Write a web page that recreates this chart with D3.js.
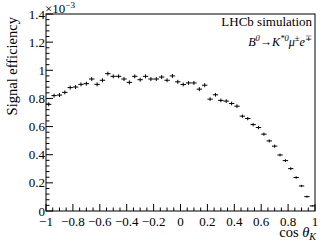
<!DOCTYPE html>
<html>
<head>
<meta charset="utf-8">
<script src="https://cdn.jsdelivr.net/npm/d3@7"></script>
<style>
body { margin: 0; background: #fff; }
</style>
</head>
<body>
<script>
var width = 332, height = 246;
var font = "'Liberation Serif', 'Times New Roman', Times, 'DejaVu Serif', serif";

// 50 bins in cos(theta_K), efficiency in units of 1e-3
var binEdges = [-1, 1];
var nBins = 50;
var eff = [0.758, 0.820, 0.824, 0.843, 0.877, 0.881, 0.900, 0.905, 0.938, 0.900,
           0.929, 0.976, 0.957, 0.957, 0.938, 0.914, 0.957, 0.933, 0.957, 0.938,
           0.938, 0.952, 0.929, 0.960, 0.918, 0.899, 0.910, 0.910, 0.866, 0.894,
           0.795, 0.826, 0.786, 0.781, 0.764, 0.745, 0.674, 0.657, 0.614, 0.593,
           0.546, 0.498, 0.461, 0.398, 0.358, 0.301, 0.238, 0.178, 0.102, 0.036];
var effErr = [0.014, 0.014, 0.014, 0.014, 0.014, 0.014, 0.014, 0.014, 0.014, 0.014,
              0.014, 0.014, 0.014, 0.014, 0.014, 0.014, 0.014, 0.014, 0.014, 0.014,
              0.014, 0.014, 0.014, 0.014, 0.014, 0.014, 0.014, 0.014, 0.014, 0.014,
              0.013, 0.013, 0.013, 0.013, 0.013, 0.013, 0.012, 0.012, 0.012, 0.012,
              0.011, 0.011, 0.011, 0.010, 0.010, 0.010, 0.009, 0.008, 0.007, 0.005];
var xTicks = [-1, -0.8, -0.6, -0.4, -0.2, 0, 0.2, 0.4, 0.6, 0.8, 1];
var yTicks = [0, 0.2, 0.4, 0.6, 0.8, 1, 1.2, 1.4];

var mLeft = 46, mRight = 315, mTop = 14, mBottom = 211;

var x = d3.scaleLinear().domain(binEdges).range([mLeft, mRight]);
var y = d3.scaleLinear().domain([0, 1.4]).range([mBottom, mTop]);

var svg = d3.select("body").append("svg")
  .attr("width", width)
  .attr("height", height)
  .attr("font-family", font);

var binW = (binEdges[1] - binEdges[0]) / nBins;
var pts = eff.map(function(v, i) {
  return { lo: binEdges[0] + i * binW, hi: binEdges[0] + (i + 1) * binW, v: v, e: effErr[i] };
});

// frame
svg.append("rect")
  .attr("x", mLeft).attr("y", mTop)
  .attr("width", mRight - mLeft).attr("height", mBottom - mTop)
  .attr("fill", "none").attr("stroke", "#000").attr("stroke-width", 1);

// x axis ticks (inside)
var xMinor = d3.range(-1, 1.0001, 0.05);
svg.append("g").selectAll("line")
  .data(xMinor).enter().append("line")
  .attr("x1", function(d) { return x(d); })
  .attr("x2", function(d) { return x(d); })
  .attr("y1", mBottom)
  .attr("y2", function(d, i) { return i % 4 == 0 ? mBottom - 7 : mBottom - 3.5; })
  .attr("stroke", "#000");

svg.append("g").selectAll("text")
  .data(xTicks).enter().append("text")
  .attr("x", function(d) { return x(d); })
  .attr("y", 226)
  .attr("text-anchor", "middle")
  .attr("font-size", 13)
  .text(function(d) { return d3.format("")(d).replace("-", "\u2212"); });

// y axis ticks (inside)
var yMinor = d3.range(0, 1.4001, 0.04);
svg.append("g").selectAll("line")
  .data(yMinor).enter().append("line")
  .attr("y1", function(d) { return y(d); })
  .attr("y2", function(d) { return y(d); })
  .attr("x1", mLeft)
  .attr("x2", function(d, i) { return i % 5 == 0 ? mLeft + 7 : mLeft + 3.5; })
  .attr("stroke", "#000");

svg.append("g").selectAll("text")
  .data(yTicks).enter().append("text")
  .attr("x", mLeft - 1)
  .attr("y", function(d) { return y(d) + 4.5; })
  .attr("text-anchor", "end")
  .attr("font-size", 13)
  .text(function(d) { return d3.format("")(d); });

// multiplier
var mult = svg.append("text").attr("x", mLeft - 1).attr("y", 13).attr("font-size", 13);
mult.append("tspan").text("\u00d710");
mult.append("tspan").attr("dy", -5).attr("font-size", 9).text("\u22123");

// axis titles
svg.append("text")
  .attr("transform", "translate(17,17) rotate(-90)")
  .attr("text-anchor", "end")
  .attr("font-size", 14.5)
  .text("Signal efficiency");

var xt = svg.append("text").attr("x", mRight + 1).attr("y", 237)
  .attr("text-anchor", "end").attr("font-size", 14.5);
xt.append("tspan").text("cos ");
xt.append("tspan").attr("font-style", "italic").text("\u03b8");
xt.append("tspan").attr("dy", 3).attr("font-size", 10).attr("font-style", "italic").text("K");

// labels
svg.append("text").attr("x", 312).attr("y", 26).attr("text-anchor", "end")
  .attr("font-size", 13).text("LHCb simulation");

var dec = svg.append("text").attr("x", 312).attr("y", 46).attr("text-anchor", "end")
  .attr("font-size", 12.2).attr("font-style", "italic");
dec.append("tspan").text("B");
dec.append("tspan").attr("dy", -5).attr("font-size", 8.5).text("0");
dec.append("tspan").attr("dy", 5).attr("font-style", "normal").text("\u2192");
dec.append("tspan").text("K");
dec.append("tspan").attr("dy", -5).attr("font-size", 8.5).text("*0");
dec.append("tspan").attr("dy", 5).text("\u03bc");
dec.append("tspan").attr("dy", -5).attr("font-size", 8.5).text("\u00b1");
dec.append("tspan").attr("dy", 5).text("e");
dec.append("tspan").attr("dy", -5).attr("font-size", 8.5).text("\u2213");

// data points with error bars
var g = svg.append("g").attr("stroke", "#000").attr("stroke-width", 1);
g.selectAll("line.h")
  .data(pts).enter().append("line").attr("class", "h")
  .attr("x1", function(d) { return x(d.lo); })
  .attr("x2", function(d) { return x(d.hi); })
  .attr("y1", function(d) { return y(d.v); })
  .attr("y2", function(d) { return y(d.v); });
g.selectAll("line.v")
  .data(pts).enter().append("line").attr("class", "v")
  .attr("x1", function(d) { return x((d.lo + d.hi) / 2); })
  .attr("x2", function(d) { return x((d.lo + d.hi) / 2); })
  .attr("y1", function(d) { return y(d.v - d.e); })
  .attr("y2", function(d) { return y(d.v + d.e); });
</script>
</body>
</html>
